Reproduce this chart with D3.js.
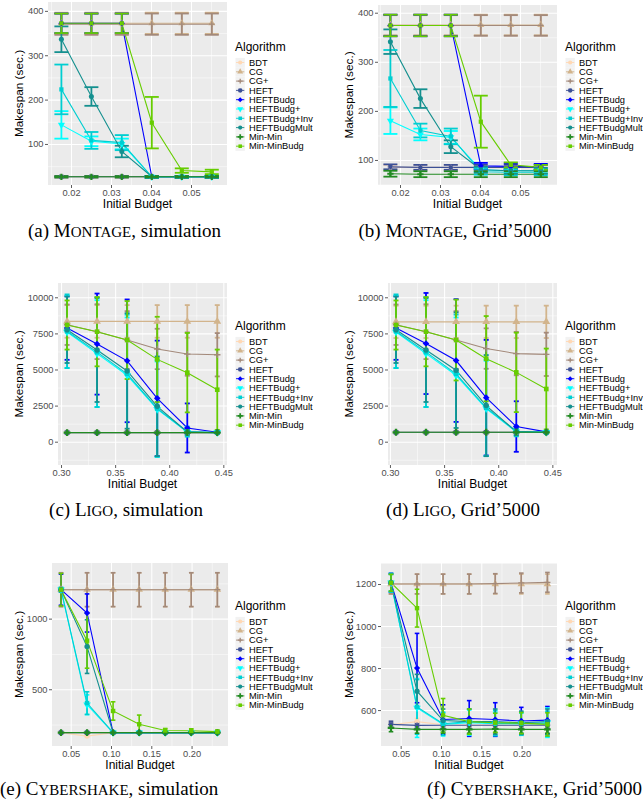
<!DOCTYPE html>
<html><head><meta charset="utf-8">
<script src="https://cdn.jsdelivr.net/npm/d3@7"></script>
<style>html,body{margin:0;padding:0;background:#fff;overflow:hidden}svg{display:block}</style>
</head><body>
<svg id="chart" width="643" height="812"></svg>
<script>
// ---------------- DATA ----------------
const algorithms = ["BDT","CG","CG+","HEFT","HEFTBudg","HEFTBudg+","HEFTBudg+Inv","HEFTBudgMult","Min-Min","Min-MinBudg"];
const algoColors = ["#FFD8B4","#D2B48C","#A3897A","#3B4F96","#0000FF","#00FFFF","#00CED1","#14908F","#228B22","#66CD00"];
const algoShapes = ["circle","triangle","plus","asterisk","diamond","triangleDown","square","circle","cross","square"];

const montageBudgets = [0.0176,0.0251,0.0327,0.0402,0.0477,0.0552];
const ligoBudgets = [0.3056,0.3333,0.3611,0.3889,0.4167,0.4444];
const cyberBudgets = [0.0380,0.0703,0.1026,0.1350,0.1673,0.1996,0.2320];

const montageXTicks = [0.02,0.03,0.04,0.05];
const ligoXTicks = [0.30,0.35,0.40,0.45];
const cyberXTicks = [0.05,0.10,0.15,0.20];
const montageYTicks = [100,200,300,400];
const ligoYTicks = [0,2500,5000,7500,10000];
const cyberSimYTicks = [500,1000];
const cyberGridYTicks = [600,800,1000,1200];

const montageSimMean = {
  "BDT":[26,26,26,26,26,26],
  "CG":[372,372,372,372,372,372],
  "CG+":[370,370,370,370,370,370],
  "HEFT":[26,26,26,26,26,26],
  "HEFTBudg":[372,372,372,26,26,26],
  "HEFTBudg+":[143,106,100,26,26,26],
  "HEFTBudg+Inv":[223,108,103,26,26,26],
  "HEFTBudgMult":[336,207,83,26,26,26],
  "Min-Min":[26,26,26,26,26,26],
  "Min-MinBudg":[372,372,372,148,40,37]
};
const montageSimSd = {
  "BDT":[2,2,2,2,2,2],
  "CG":[24,24,24,24,24,24],
  "CG+":[24,24,24,24,24,24],
  "HEFT":[1.5,1.5,1.5,1.5,1.5,1.5],
  "HEFTBudg":[22,22,22,2,2,2],
  "HEFTBudg+":[31,11,12,2,2,2],
  "HEFTBudg+Inv":[56,19,17,2,2,2],
  "HEFTBudgMult":[29,21,13,2,2,2],
  "Min-Min":[1.5,1.5,1.5,1.5,1.5,1.5],
  "Min-MinBudg":[22,22,22,58,5,5]
};

const montageGridMean = {
  "BDT":[85,85,85,84,84,84],
  "CG":[375,375,375,375,375,375],
  "CG+":[374,374,374,374,374,374],
  "HEFT":[86,85,85,85,85,85],
  "HEFTBudg":[374,374,374,88,87,86],
  "HEFTBudg+":[180,152,146,80,78,78],
  "HEFTBudg+Inv":[266,160,148,76,75,75],
  "HEFTBudgMult":[341,225,127,80,78,78],
  "Min-Min":[72,71,71,71,71,71],
  "Min-MinBudg":[374,374,374,178,90,85]
};
const montageGridSd = {
  "BDT":[5,5,5,5,5,5],
  "CG":[21,21,21,21,21,21],
  "CG+":[21,21,21,21,21,21],
  "HEFT":[5,5,5,5,5,5],
  "HEFTBudg":[22,22,22,6,6,6],
  "HEFTBudg+":[27,12,13,5,5,5],
  "HEFTBudg+Inv":[58,14,16,6,6,6],
  "HEFTBudgMult":[25,19,13,6,6,6],
  "Min-Min":[6,6,6,6,6,6],
  "Min-MinBudg":[22,22,22,53,5,5]
};

const ligoSimMean = {
  "BDT":[630,630,630,630,630,630],
  "CG":[8330,8330,8330,8330,8330,8330],
  "CG+":[8100,7620,7040,6420,6070,6020],
  "HEFT":[630,630,630,630,630,630],
  "HEFTBudg":[7870,6760,5600,3000,950,650],
  "HEFTBudg+":[7600,6100,4600,2250,650,630],
  "HEFTBudg+Inv":[7650,6200,4700,2300,700,630],
  "HEFTBudgMult":[7750,6350,4900,2450,680,630],
  "Min-Min":[630,630,630,630,630,630],
  "Min-MinBudg":[8080,7620,7040,5700,4780,3600]
};
const ligoSimSd = {
  "BDT":[40,40,40,40,40,40],
  "CG":[1130,1130,1130,1130,1130,1130],
  "CG+":[1400,1900,2000,1400,1500,1500],
  "HEFT":[40,40,40,40,40,40],
  "HEFTBudg":[2200,3500,4250,4000,1700,60],
  "HEFTBudg+":[2500,3700,4000,3300,200,40],
  "HEFTBudg+Inv":[2550,3800,4100,3350,350,40],
  "HEFTBudgMult":[2300,3600,4000,3450,200,40],
  "Min-Min":[40,40,40,40,40,40],
  "Min-MinBudg":[1700,2400,2700,2950,2750,2780]
};

const ligoGridMean = {
  "BDT":[650,650,650,650,650,650],
  "CG":[8300,8300,8300,8300,8300,8300],
  "CG+":[8100,7620,7040,6450,6100,6050],
  "HEFT":[650,650,650,650,650,650],
  "HEFTBudg":[7870,6800,5620,3050,1050,680],
  "HEFTBudg+":[7600,6100,4600,2300,680,650],
  "HEFTBudg+Inv":[7650,6200,4700,2350,720,650],
  "HEFTBudgMult":[7750,6350,4950,2500,700,650],
  "Min-Min":[650,650,650,650,650,650],
  "Min-MinBudg":[8080,7620,7040,5750,4800,3650]
};
const ligoGridSd = {
  "BDT":[40,40,40,40,40,40],
  "CG":[1120,1120,1120,1120,1120,1120],
  "CG+":[1400,1900,2000,1400,1500,1500],
  "HEFT":[40,40,40,40,40,40],
  "HEFTBudg":[2200,3500,4250,4000,1750,60],
  "HEFTBudg+":[2500,3700,4000,3300,250,40],
  "HEFTBudg+Inv":[2550,3800,4100,3350,350,40],
  "HEFTBudgMult":[2300,3600,4000,3500,250,40],
  "Min-Min":[40,40,40,40,40,40],
  "Min-MinBudg":[1700,2400,2800,2950,2750,2800]
};

const cyberSimMean = {
  "BDT":[193,168,193,193,193,193,193],
  "CG":[1205,1205,1205,1205,1205,1205,1205],
  "CG+":[1205,1205,1205,1205,1205,1205,1205],
  "HEFT":[193,193,193,193,193,193,193],
  "HEFTBudg":[1205,1040,193,193,193,193,193],
  "HEFTBudg+":[1205,390,193,193,193,193,193],
  "HEFTBudg+Inv":[1205,402,193,193,193,193,193],
  "HEFTBudgMult":[1205,802,193,193,193,193,193],
  "Min-Min":[193,193,193,193,193,193,193],
  "Min-MinBudg":[1205,844,346,252,208,206,200]
};
const cyberSimSd = {
  "BDT":[4,4,4,4,4,4,4],
  "CG":[120,120,120,120,120,120,120],
  "CG+":[120,120,120,120,120,120,120],
  "HEFT":[4,4,4,4,4,4,4],
  "HEFTBudg":[110,135,4,4,4,4,4],
  "HEFTBudg+":[15,70,4,4,4,4,4],
  "HEFTBudg+Inv":[15,80,4,4,4,4,4],
  "HEFTBudgMult":[15,190,4,4,4,4,4],
  "Min-Min":[4,4,4,4,4,4,4],
  "Min-MinBudg":[115,195,65,65,14,14,10]
};

const cyberGridMean = {
  "BDT":[530,545,530,528,530,528,530],
  "CG":[1200,1200,1200,1200,1200,1200,1200],
  "CG+":[1200,1200,1200,1200,1202,1205,1208],
  "HEFT":[532,527,528,528,528,528,528],
  "HEFTBudg":[1206,800,555,560,555,548,552],
  "HEFTBudg+":[1206,610,532,540,535,535,540],
  "HEFTBudg+Inv":[1206,615,535,545,538,535,535],
  "HEFTBudgMult":[1206,690,550,545,545,540,545],
  "Min-Min":[515,508,508,508,510,508,508],
  "Min-MinBudg":[1206,1085,575,545,540,538,532]
};
const cyberGridSd = {
  "BDT":[15,15,15,15,15,15,15],
  "CG":[47,47,47,47,47,47,47],
  "CG+":[47,47,47,47,47,47,47],
  "HEFT":[15,15,15,15,15,15,15],
  "HEFTBudg":[45,165,70,85,80,65,65],
  "HEFTBudg+":[40,140,55,60,55,50,70],
  "HEFTBudg+Inv":[45,130,55,60,60,55,60],
  "HEFTBudgMult":[40,80,55,60,60,55,60],
  "Min-Min":[18,18,18,18,18,18,18],
  "Min-MinBudg":[40,90,80,60,45,50,55]
};

// ---------------- LAYOUT ----------------
const panels = [
  {x:montageBudgets, mean:montageSimMean, sd:montageSimSd, xTicks:montageXTicks, yTicks:montageYTicks,
   xDomain:[0.01425,0.0590], yDomain:[7.5,420], left:48, right:227, top:2, bottom:185, col:0, legendY:47,
   cap:7, ew:1.8, lw:1.1, ps:20, xfmt:".2f"},
  {x:montageBudgets, mean:montageGridMean, sd:montageGridSd, xTicks:montageXTicks, yTicks:montageYTicks,
   xDomain:[0.0145,0.05925], yDomain:[49,415.7], left:378, right:557, top:5, bottom:185, col:330, legendY:47,
   cap:7, ew:1.8, lw:1.1, ps:20, xfmt:".2f"},
  {x:ligoBudgets, mean:ligoSimMean, sd:ligoSimSd, xTicks:ligoXTicks, yTicks:ligoYTicks,
   xDomain:[0.2972,0.4534], yDomain:[-1614,10990], left:58, right:227, top:283, bottom:465, col:0, legendY:326,
   cap:2.5, ew:1.8, lw:1.1, ps:24, xfmt:".2f"},
  {x:ligoBudgets, mean:ligoGridMean, sd:ligoGridSd, xTicks:ligoXTicks, yTicks:ligoYTicks,
   xDomain:[0.2982,0.4543], yDomain:[-1614,10990], left:388, right:557, top:283, bottom:465, col:330, legendY:326,
   cap:2.5, ew:1.8, lw:1.1, ps:24, xfmt:".2f"},
  {x:cyberBudgets, mean:cyberSimMean, sd:cyberSimSd, xTicks:cyberXTicks, yTicks:cyberSimYTicks,
   xDomain:[0.0268,0.2452], yDomain:[98,1394], left:52, right:228, top:563, bottom:746, col:0, legendY:606,
   cap:2.3, ew:1.6, lw:1.1, ps:22, xfmt:".2f"},
  {x:cyberBudgets, mean:cyberGridMean, sd:cyberGridSd, xTicks:cyberXTicks, yTicks:cyberGridYTicks,
   xDomain:[0.0256,0.2439], yDomain:[429,1300], left:381, right:557, top:563, bottom:746, col:330, legendY:606,
   cap:2.3, ew:1.6, lw:1.1, ps:22, xfmt:".2f"}
];

const captions = [
  {lbl:"(a) ", big:"M", small:"ONTAGE", rest:", simulation", x:124.5, y:237, anchor:"middle"},
  {lbl:"(b) ", big:"M", small:"ONTAGE", rest:", Grid\u20195000", x:455, y:237, anchor:"middle"},
  {lbl:"(c) ", big:"L", small:"IGO", rest:", simulation", x:126, y:516, anchor:"middle"},
  {lbl:"(d) ", big:"L", small:"IGO", rest:", Grid\u20195000", x:463, y:516, anchor:"middle"},
  {lbl:"(e) ", big:"C", small:"YBERSHAKE", rest:", simulation", x:0, y:795, anchor:"start"},
  {lbl:"(f) ", big:"C", small:"YBERSHAKE", rest:", Grid\u20195000", x:642, y:795, anchor:"end"}
];

const sans = "'Liberation Sans', Arial, Helvetica, sans-serif";
const serif = "'Liberation Serif', 'DejaVu Serif', serif";
const svg = d3.select("#chart");

function symbolPath(shape, size) {
  const r = Math.sqrt(size) / 2;
  switch (shape) {
    case "circle": return {d: d3.symbol(d3.symbolCircle, size)(), rot: 0, stroke: false};
    case "triangle": return {d: d3.symbol(d3.symbolTriangle, size * 1.1)(), rot: 0, stroke: false};
    case "triangleDown": return {d: d3.symbol(d3.symbolTriangle, size * 1.1)(), rot: 180, stroke: false};
    case "square": return {d: d3.symbol(d3.symbolSquare, size * 0.9)(), rot: 0, stroke: false};
    case "diamond": return {d: d3.symbol(d3.symbolSquare, size * 0.9)(), rot: 45, stroke: false};
    case "cross": return {d: d3.symbol(d3.symbolCross, size * 1.1)(), rot: 0, stroke: false};
    case "plus": { const a = r * 1.3; return {d: `M${-a},0H${a}M0,${-a}V${a}`, rot: 0, stroke: true}; }
    case "asterisk": { const a = r * 1.2, b = a * 0.75;
      return {d: `M${-a},0H${a}M0,${-a}V${a}M${-b},${-b}L${b},${b}M${-b},${b}L${b},${-b}`, rot: 0, stroke: true}; }
  }
}

function drawSymbol(g, shape, size, color, cx, cy) {
  const s = symbolPath(shape, size);
  const p = g.append("path").attr("d", s.d)
    .attr("transform", `translate(${cx},${cy}) rotate(${s.rot})`);
  if (s.stroke) p.attr("fill", "none").attr("stroke", color).attr("stroke-width", 1.3);
  else p.attr("fill", color);
}

function minorTicks(ticks, dom) {
  const step = ticks[1] - ticks[0];
  const out = [];
  for (let v = ticks[0] - step / 2; v <= dom[1] + 1e-9; v += step) if (v >= dom[0]) out.push(v);
  return out;
}

function drawPanel(p) {
  const g = svg.append("g");
  const x = d3.scaleLinear().domain(p.xDomain).range([p.left, p.right]);
  const y = d3.scaleLinear().domain(p.yDomain).range([p.bottom, p.top]);
  const w = p.right - p.left, h = p.bottom - p.top;

  g.append("rect").attr("x", p.left).attr("y", p.top).attr("width", w).attr("height", h).attr("fill", "#EBEBEB");

  const gridStyle = (sel, width) => {
    sel.select(".domain").remove();
    sel.selectAll("line").attr("stroke", "#FFFFFF").attr("stroke-width", width);
    sel.selectAll("text").remove();
  };
  g.append("g").attr("transform", `translate(0,${p.bottom})`)
    .call(d3.axisBottom(x).tickValues(minorTicks(p.xTicks, p.xDomain)).tickSize(-h).tickFormat(""))
    .call(s => gridStyle(s, 0.5));
  g.append("g").attr("transform", `translate(${p.left},0)`)
    .call(d3.axisLeft(y).tickValues(minorTicks(p.yTicks, p.yDomain)).tickSize(-w).tickFormat(""))
    .call(s => gridStyle(s, 0.5));
  g.append("g").attr("transform", `translate(0,${p.bottom})`)
    .call(d3.axisBottom(x).tickValues(p.xTicks).tickSize(-h).tickFormat(""))
    .call(s => gridStyle(s, 1.05));
  g.append("g").attr("transform", `translate(${p.left},0)`)
    .call(d3.axisLeft(y).tickValues(p.yTicks).tickSize(-w).tickFormat(""))
    .call(s => gridStyle(s, 1.05));

  const axStyle = sel => {
    sel.select(".domain").remove();
    sel.selectAll("line").attr("stroke", "#333333").attr("stroke-width", 0.8);
    sel.selectAll("text").attr("fill", "#4D4D4D").attr("font-family", sans).attr("font-size", 9.3);
  };
  g.append("g").attr("transform", `translate(0,${p.bottom})`)
    .call(d3.axisBottom(x).tickValues(p.xTicks).tickSize(3).tickPadding(1.5).tickFormat(d3.format(p.xfmt)))
    .call(axStyle);
  g.append("g").attr("transform", `translate(${p.left},0)`)
    .call(d3.axisLeft(y).tickValues(p.yTicks).tickSize(3).tickPadding(1.5).tickFormat(d3.format("d")))
    .call(axStyle);

  g.append("text").attr("x", (p.left + p.right) / 2).attr("y", p.bottom + 23)
    .attr("text-anchor", "middle").attr("font-family", sans).attr("font-size", 12).attr("fill", "#000")
    .text("Initial Budget");
  g.append("text").attr("transform", `translate(${p.col + 23},${(p.top + p.bottom) / 2}) rotate(-90)`)
    .attr("text-anchor", "middle").attr("font-family", sans).attr("font-size", 11.8).attr("fill", "#000")
    .text("Makespan (sec.)");

  const line = d3.line().x(d => x(d[0])).y(d => y(d[1]));
  const series = algorithms.map((a, i) => ({
    name: a, color: algoColors[i], shape: algoShapes[i],
    pts: p.x.map((bx, j) => [bx, p.mean[a][j], p.sd[a][j]])
  }));

  g.append("g").selectAll("path").data(series).join("path")
    .attr("d", s => line(s.pts)).attr("fill", "none")
    .attr("stroke", s => s.color).attr("stroke-width", p.lw);

  const eb = g.append("g");
  series.forEach(s => {
    const sg = eb.append("g").attr("stroke", s.color).attr("stroke-width", p.ew).attr("fill", "none");
    s.pts.forEach(d => {
      const cx = x(d[0]), y1 = y(d[1] + d[2]), y2 = y(d[1] - d[2]);
      sg.append("line").attr("x1", cx).attr("x2", cx).attr("y1", y1).attr("y2", y2);
      sg.append("line").attr("x1", cx - p.cap).attr("x2", cx + p.cap).attr("y1", y1).attr("y2", y1);
      sg.append("line").attr("x1", cx - p.cap).attr("x2", cx + p.cap).attr("y1", y2).attr("y2", y2);
    });
  });

  const pg = g.append("g");
  series.forEach(s => s.pts.forEach(d => drawSymbol(pg, s.shape, p.ps, s.color, x(d[0]), y(d[1]))));

  const lx = p.col + 235;
  const lg = svg.append("g");
  lg.append("text").attr("x", lx).attr("y", p.legendY).attr("dy", "0.35em")
    .attr("font-family", sans).attr("font-size", 12).attr("fill", "#000").text("Algorithm");
  series.forEach((s, i) => {
    const cy = p.legendY + 15.5 + i * 9.3;
    lg.append("rect").attr("x", lx + 0.5).attr("y", cy - 4.6).attr("width", 9.3).attr("height", 9.3).attr("fill", "#F2F2F2");
    lg.append("line").attr("x1", lx + 1).attr("x2", lx + 9.3).attr("y1", cy).attr("y2", cy)
      .attr("stroke", s.color).attr("stroke-width", 0.9);
    drawSymbol(lg, s.shape, 14, s.color, lx + 5.2, cy);
    lg.append("text").attr("x", lx + 14).attr("y", cy).attr("dy", "0.35em")
      .attr("font-family", sans).attr("font-size", 9.3).attr("fill", "#000").text(s.name);
  });
}

panels.forEach(drawPanel);

captions.forEach(c => {
  const t = svg.append("text").attr("x", c.x).attr("y", c.y).attr("text-anchor", c.anchor)
    .attr("font-family", serif).attr("font-size", 19).attr("fill", "#000");
  t.append("tspan").text(c.lbl);
  t.append("tspan").text(c.big);
  t.append("tspan").attr("font-size", 15).text(c.small);
  t.append("tspan").text(c.rest);
});
</script>
</body></html>
